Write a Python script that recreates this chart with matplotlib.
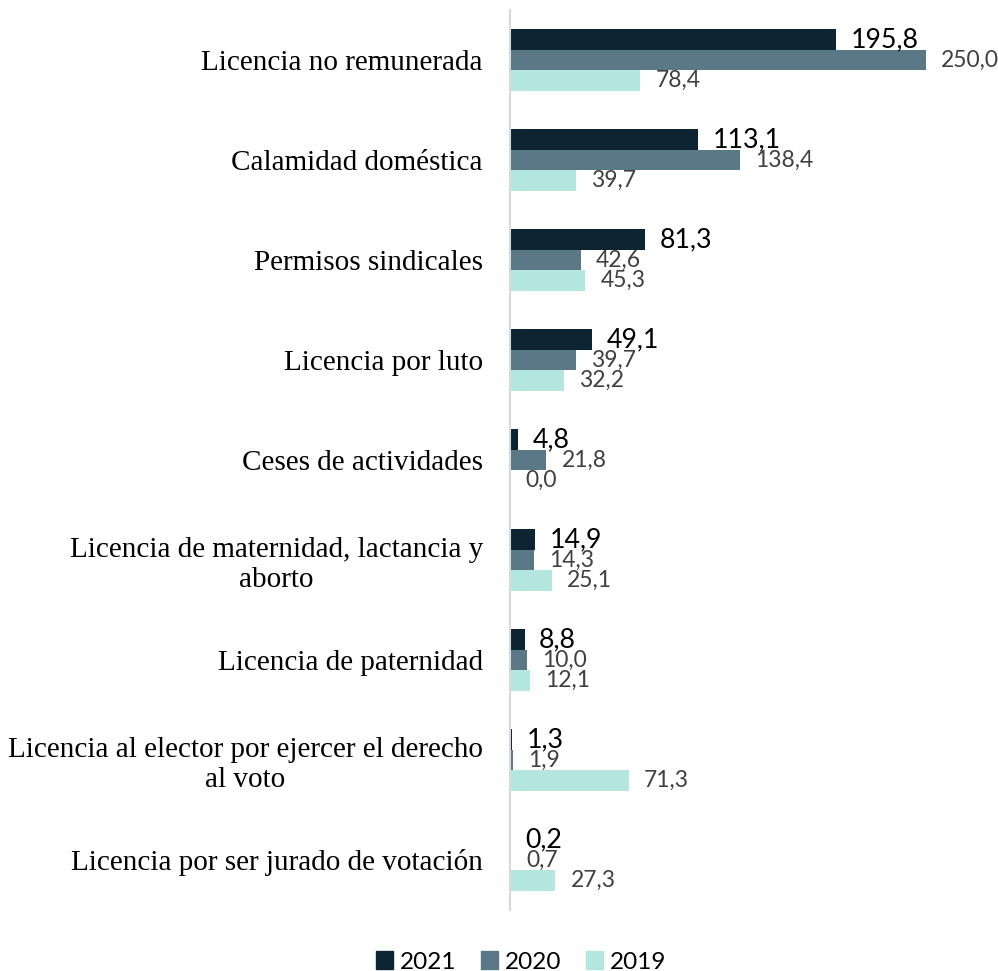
import numpy as np
import matplotlib.pyplot as plt
from matplotlib.patches import Patch

categories = [
    "Licencia no remunerada",
    "Calamidad doméstica",
    "Permisos sindicales",
    "Licencia por luto",
    "Ceses de actividades",
    "Licencia de maternidad, lactancia y\naborto",
    "Licencia de paternidad",
    "Licencia al elector por ejercer el derecho\nal voto",
    "Licencia por ser jurado de votación",
]
v2021 = [195.8, 113.1, 81.3, 49.1, 4.8, 14.9, 8.8, 1.3, 0.2]
v2020 = [250.0, 138.4, 42.6, 39.7, 21.8, 14.3, 10.0, 1.9, 0.7]
v2019 = [78.4, 39.7, 45.3, 32.2, 0.0, 25.1, 12.1, 71.3, 27.3]
years = ["2021", "2020", "2019"]
colors = ["#0D2433", "#5A7885", "#B3E6DF"]

fig = plt.figure(figsize=(9.98, 9.71), dpi=100)
ax = fig.add_axes([510 / 998, 61 / 971, 488 / 998, 900 / 971])

y = np.arange(len(categories))
h = 0.205
series = [v2021, v2020, v2019]
for i, (vals, c) in enumerate(zip(series, colors)):
    pos = y + (i - 1) * h
    ax.barh(pos, vals, height=h, color=c)
    for p, v in zip(pos, vals):
        label = f"{v:.1f}".replace(".", ",")
        if i == 0:
            ax.annotate(label, (v, p), xytext=(10.5, 0), textcoords="offset points",
                        va="center", ha="left", fontsize=19.3, family="Lato",
                        color="black")
        else:
            ax.annotate(label, (v, p), xytext=(11, 0), textcoords="offset points",
                        va="center", ha="left", fontsize=16.5, family="Lato",
                        color="#404040")

ax.set_xlim(0, 293.3)
ax.set_ylim(len(categories) - 0.5, -0.5)
ax.set_yticks(y)
ax.set_yticklabels(categories, family="Liberation Serif", fontsize=21.0,
                   multialignment="center")
ax.tick_params(axis="y", length=0, pad=19.5)
ax.set_xticks([])
for s in ["top", "right", "bottom"]:
    ax.spines[s].set_visible(False)
ax.spines["left"].set_color("#D9D9D9")
ax.spines["left"].set_linewidth(1.5)

handles = [Patch(color=c, label=yr) for c, yr in zip(colors, years)]
fig.legend(handles=handles, loc="center", bbox_to_anchor=(521 / 998, 1 - 962 / 971),
           ncol=3, frameon=False, prop={"family": "Lato", "size": 17.5},
           handlelength=0.7, handleheight=0.7, handletextpad=0.3, columnspacing=1.0)

fig.savefig("out.png", dpi=100)
